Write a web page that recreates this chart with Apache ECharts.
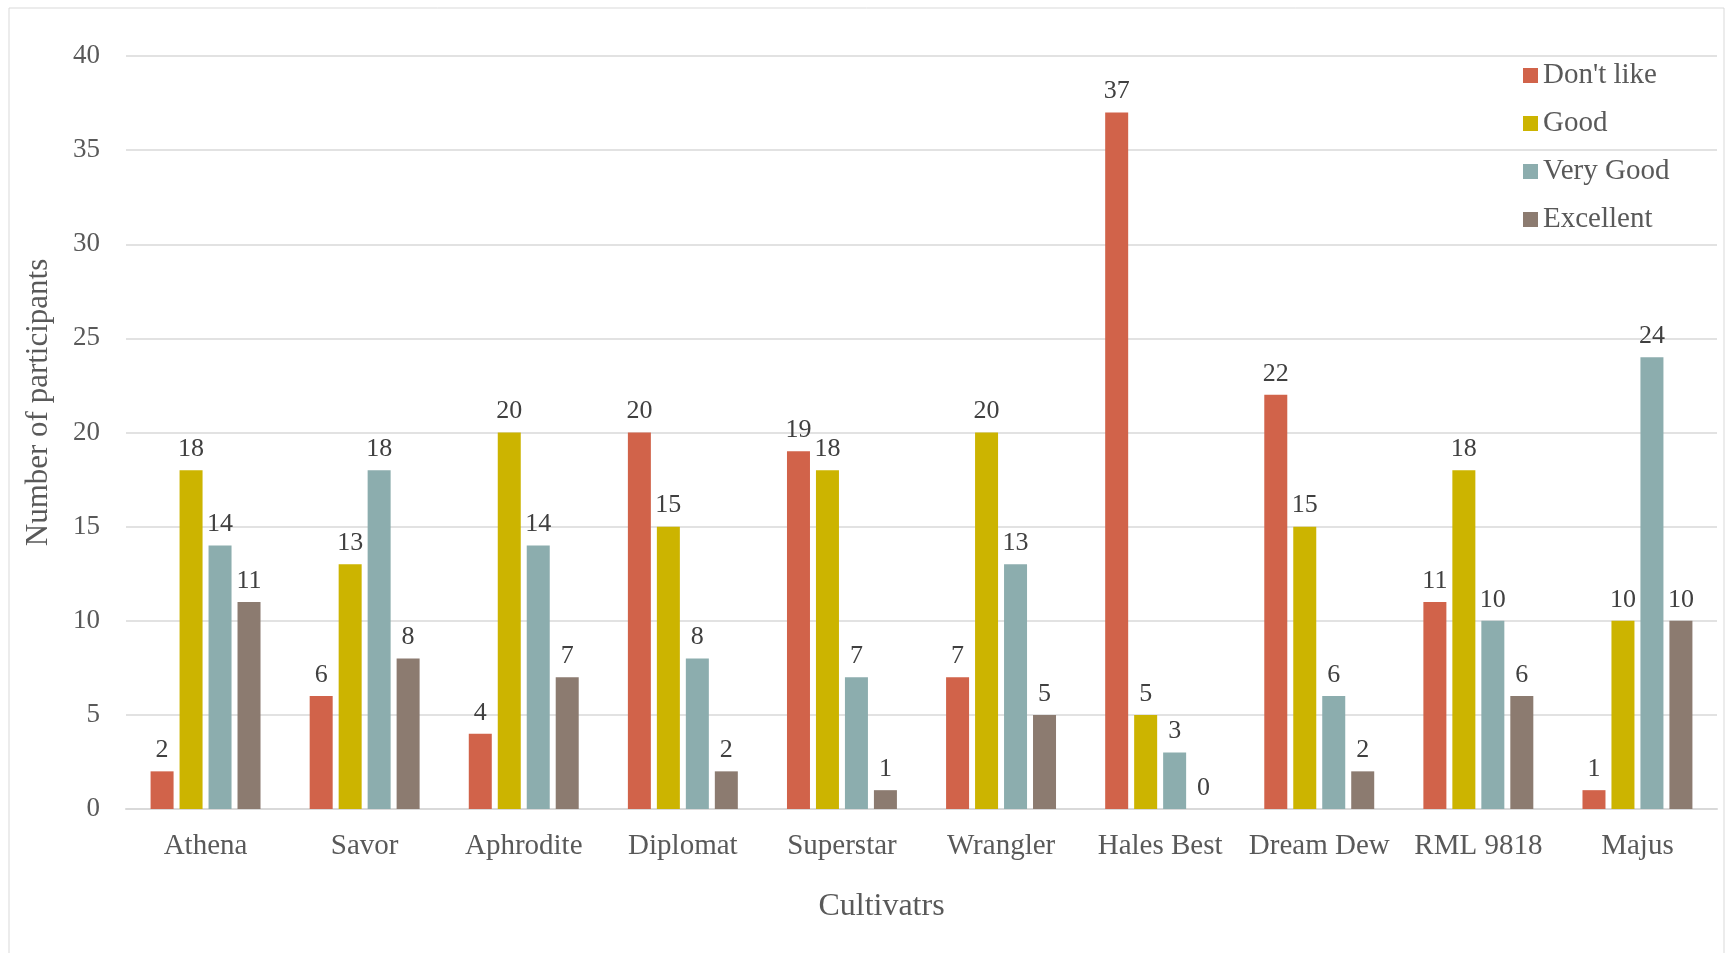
<!DOCTYPE html>
<html>
<head>
<meta charset="utf-8">
<script src="https://cdn.jsdelivr.net/npm/echarts@6/dist/echarts.min.js"></script>
<style>
  html, body { margin: 0; padding: 0; background: #fff; }
  #chart { width: 1726px; height: 953px; }
</style>
</head>
<body>
<div id="chart"></div>
<script>
const cultivars = ["Athena", "Savor", "Aphrodite", "Diplomat", "Superstar", "Wrangler", "Hales Best", "Dream Dew", "RML 9818", "Majus"];
const dontLike = [2, 6, 4, 20, 19, 7, 37, 22, 11, 1];
const good = [18, 13, 20, 15, 18, 20, 5, 15, 18, 10];
const veryGood = [14, 18, 14, 8, 7, 13, 3, 6, 10, 24];
const excellent = [11, 8, 7, 2, 1, 5, 0, 2, 6, 10];
const yTicks = [0, 5, 10, 15, 20, 25, 30, 35, 40];

const font = "Liberation Serif";
const chart = echarts.init(document.getElementById("chart"));

function bar(name, data, color) {
  return {
    name: name,
    type: "bar",
    data: data,
    barWidth: 23,
    barGap: "26%",
    itemStyle: { color: color },
    label: {
      show: true,
      position: "top",
      distance: 8,
      fontFamily: font,
      fontSize: 26,
      color: "#404040"
    }
  };
}

const option = {
  animation: false,
  textStyle: { fontFamily: font },
  graphic: [{
    type: "rect",
    shape: { x: 9, y: 8, width: 1715, height: 960 },
    style: { fill: "none", stroke: "#d9d9d9", lineWidth: 1 },
    silent: true,
    z: -1
  }],
  grid: { left: 126, right: 9, top: 56, bottom: 144 },
  legend: {
    orient: "vertical",
    left: 1518,
    top: 56,
    itemWidth: 15,
    itemHeight: 15,
    itemGap: 19,
    icon: "rect",
    textStyle: { fontFamily: font, fontSize: 29, color: "#595959", lineHeight: 28 }
  },
  xAxis: {
    type: "category",
    data: cultivars,
    name: "Cultivatrs",
    nameLocation: "middle",
    nameGap: 82,
    nameTextStyle: { fontFamily: font, fontSize: 32, color: "#595959", padding: [0, 80, 0, 0] },
    axisLine: { lineStyle: { color: "#d9d9d9", width: 2 } },
    axisTick: { show: false },
    axisLabel: { interval: 0, fontFamily: font, fontSize: 29, color: "#595959", margin: 23 }
  },
  yAxis: {
    type: "value",
    min: yTicks[0],
    max: yTicks[yTicks.length - 1],
    interval: yTicks[1] - yTicks[0],
    name: "Number of participants",
    nameLocation: "middle",
    nameGap: 72,
    nameTextStyle: { fontFamily: font, fontSize: 31, color: "#595959", padding: [0, 0, 0, 60] },
    axisLine: { show: false },
    axisTick: { show: false },
    splitLine: { lineStyle: { color: "#d9d9d9", width: 1.5 } },
    axisLabel: { fontFamily: font, fontSize: 27, color: "#595959", margin: 26 }
  },
  series: [
    bar("Don't like", dontLike, "#d1634a"),
    bar("Good", good, "#ccb400"),
    bar("Very Good", veryGood, "#8cadae"),
    bar("Excellent", excellent, "#8c7b70")
  ]
};

chart.setOption(option);
</script>
</body>
</html>
